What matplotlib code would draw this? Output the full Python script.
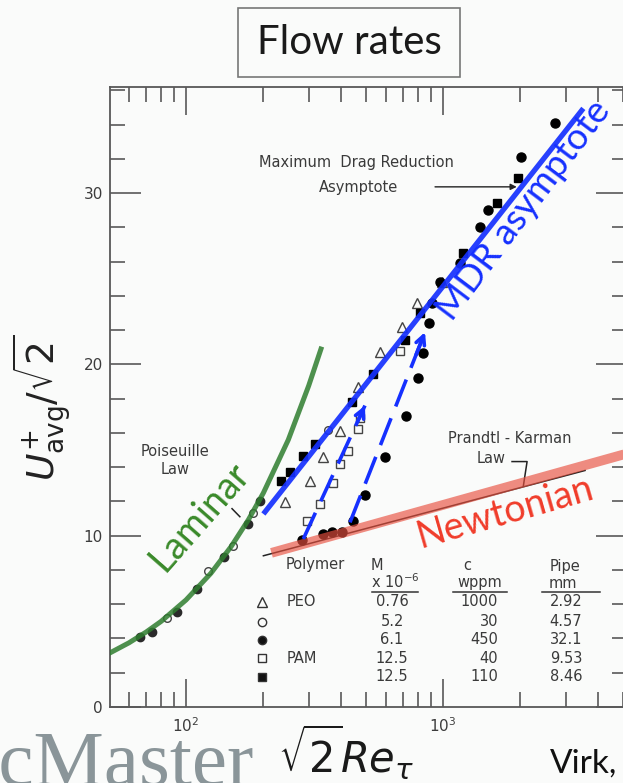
import numpy as np
import matplotlib
matplotlib.use('Agg')
import matplotlib.pyplot as plt
from matplotlib.patches import Rectangle
from matplotlib.ticker import LogLocator, MultipleLocator, NullFormatter

# ---------------- data ----------------
# Poiseuille (laminar) law, green curve
lam_x = [50.6, 60, 70, 80, 100, 125, 150, 175, 200, 250, 300, 335]
lam_y = [3.16, 3.75, 4.38, 5.0, 6.25, 7.81, 9.38, 10.94, 12.5, 15.6, 18.75, 20.9]
# Prandtl-Karman law (thin black)
pk_x = [200, 3570]
pk_y = [8.83, 13.81]
# Newtonian (red, hand drawn)
newt_x = [215, 5200]
newt_y = [9.0, 14.8]
# MDR asymptote (blue)
mdr_x = [200, 3516]
mdr_y = [11.27, 34.95]
# dashed blue arrows
arrow1_x = [286, 497]
arrow1_y = [9.81, 17.6]
arrow2_x = [434.5, 851]
arrow2_y = [10.78, 21.89]

# experimental points
lam_pts_x = [66.3, 73.5, 92, 110, 140, 175, 194]
lam_pts_y = [4.09, 4.4, 5.57, 6.88, 8.73, 10.7, 12.05]

tri_x = [243.5, 304, 342, 397, 468, 569, 690, 791, 988]
tri_y = [11.95, 13.2, 14.58, 16.1, 18.67, 20.72, 22.2, 23.6, 24.8]

ocirc_x = [84.2, 122, 153, 183, 357]
ocirc_y = [5.2, 7.95, 9.4, 11.3, 16.2]

fcirc_x = [282, 342, 369, 403, 448, 497, 594, 716, 797, 834, 882, 903, 973,
           1164, 1393, 1500, 2004, 2729]
fcirc_y = [9.75, 10.1, 10.19, 10.23, 10.88, 12.4, 14.58, 17.0, 19.2, 20.66,
           22.4, 23.6, 24.8, 25.9, 28.0, 29.0, 32.1, 34.07]

osq_x = [295, 332, 374, 397, 428, 468, 475, 681]
osq_y = [10.88, 11.85, 13.1, 14.2, 14.97, 16.24, 16.9, 20.8]

fsq_x = [235, 254, 286, 318, 441, 536, 711, 813, 1199, 1625, 1963]
fsq_y = [13.2, 13.7, 14.68, 15.36, 17.8, 19.45, 21.4, 23.0, 26.5, 29.4, 30.86]

# legend table
leg_markers = ['^', 'o', 'o', 's', 's']
leg_filled = [False, False, True, False, True]
leg_polymer = ['PEO', '', '', 'PAM', '']
leg_M = ['0.76', '5.2', '6.1', '12.5', '12.5']
leg_c = ['1000', '30', '450', '40', '110']
leg_pipe = ['2.92', '4.57', '32.1', '9.53', '8.46']

# ---------------- figure ----------------
W, H = 623, 783
fig = plt.figure(figsize=(W / 100, H / 100), dpi=100)
bg = '#fafbfa'
fig.patch.set_facecolor(bg)

L, R, T, B = 110, 627, 87, 707
ax = fig.add_axes([L / W, 1 - B / H, (R - L) / W, (B - T) / H])
ax.set_facecolor(bg)
ax.set_xscale('log')
ax.set_xlim(50.6, 10 ** (2 + (R - 186) / 257))
ax.set_ylim(0, 36.2)

sc = '#585858'
for s in ax.spines.values():
    s.set_color(sc)
    s.set_linewidth(1.3)

ax.yaxis.set_major_locator(MultipleLocator(10))
ax.yaxis.set_minor_locator(MultipleLocator(2))
ax.xaxis.set_major_locator(LogLocator(base=10, numticks=10))
ax.xaxis.set_minor_locator(LogLocator(base=10, subs=np.arange(2, 10), numticks=20))
ax.xaxis.set_minor_formatter(NullFormatter())
ax.tick_params(which='both', direction='in', top=True, right=True, color=sc,
               width=1.2, labelcolor='#3c3c3c', labelsize=11)
ax.tick_params(axis='y', which='major', length=22, pad=5)
ax.tick_params(axis='y', which='minor', length=11)
ax.tick_params(axis='x', which='major', length=20, pad=7)
ax.tick_params(axis='x', which='minor', length=11)

ink = '#2a2a2a'
ms_kw = dict(linestyle='none', zorder=3)
ax.plot(lam_pts_x, lam_pts_y, marker='o', ms=6, mfc=ink, mec=ink, **ms_kw)
ax.plot(tri_x, tri_y, marker='^', ms=7, mfc='none', mec='#444', mew=1.0, **ms_kw)
ax.plot(ocirc_x, ocirc_y, marker='o', ms=5.5, mfc='none', mec='#444', mew=1.0, **ms_kw)
ax.plot(fcirc_x, fcirc_y, marker='o', ms=6.5, mfc='black', mec='black', **ms_kw)
ax.plot(osq_x, osq_y, marker='s', ms=5.5, mfc='none', mec='#444', mew=1.0, **ms_kw)
ax.plot(fsq_x, fsq_y, marker='s', ms=6, mfc='black', mec='black', **ms_kw)

# theory lines
ax.plot(pk_x, pk_y, color='#222', lw=1.1, zorder=2)
ax.plot(newt_x, newt_y, color='#e8503f', lw=7, alpha=0.65, solid_capstyle='butt', zorder=4)
ax.plot(lam_x, lam_y, color='#2f7d2f', lw=3.6, alpha=0.85, zorder=4)
blue = '#1530ff'
ax.plot(mdr_x, mdr_y, color=blue, lw=3.8, alpha=0.92, solid_capstyle='butt', zorder=4)

for axx, ayy in ((arrow1_x, arrow1_y), (arrow2_x, arrow2_y)):
    ax.plot(axx, ayy, color=blue, lw=2.6, dashes=(8, 3.5), zorder=4)
    lx0, lx1 = np.log10(axx[0]), np.log10(axx[1])
    xb = 10 ** (lx1 - 0.12 * (lx1 - lx0))
    yb = ayy[1] - 0.12 * (ayy[1] - ayy[0])
    ax.annotate('', xy=(axx[1], ayy[1]), xytext=(xb, yb),
                arrowprops=dict(arrowstyle='->', color=blue, lw=2.6,
                                mutation_scale=16, shrinkA=0, shrinkB=0),
                zorder=4)

# scanned annotations
tfont = dict(family='DejaVu Sans', color='#3a3a3a', fontsize=10.5)
ax.text(462, 31.8, 'Maximum  Drag Reduction', ha='center', va='center', **tfont)
ax.text(467, 30.35, 'Asymptote', ha='center', va='center', **tfont)
ax.annotate('', xy=(1936, 30.37), xytext=(931, 30.37),
            arrowprops=dict(arrowstyle='-|>', color='#222', lw=1.0,
                            mutation_scale=9, shrinkA=0, shrinkB=0))
ax.text(90.6, 14.4, 'Poiseuille\nLaw', ha='center', va='center',
        linespacing=1.3, **tfont)
ax.plot([151, 162], [11.58, 11.11], color='#222', lw=1.1)
ax.text(1824, 15.67, 'Prandtl - Karman', ha='center', va='center', **tfont)
ax.text(1538, 14.5, 'Law', ha='center', va='center', **tfont)
ax.plot([1856, 2124, 2054], [14.33, 14.33, 12.9], color='#222', lw=1.1)

# coloured slide annotations
sfont = 'Lato'
ax.text(2050, 29.0, 'MDR asymptote', color=blue, fontsize=26.5, family=sfont,
        rotation=53, rotation_mode='anchor', ha='center', va='center', zorder=5)
ax.text(113.4, 11.1, 'Laminar', color='#3a8a2a', fontsize=27, family=sfont,
        rotation=48.7, rotation_mode='anchor', ha='center', va='center', zorder=5)
ax.text(1742, 11.35, 'Newtonian', color='#f03c2a', fontsize=27, family=sfont,
        rotation=16, rotation_mode='anchor', ha='center', va='center', zorder=5)

# legend table (axes fraction)
def fx(px):
    return (px - L) / (R - L)

def fy(py):
    return (B - py) / (B - T)

ta = ax.transAxes
ax.text(fx(315), fy(565), 'Polymer', transform=ta, ha='center', va='center', **tfont)
ax.text(fx(377), fy(565), 'M', transform=ta, ha='center', va='center', **tfont)
ax.text(fx(395), fy(582), r'x 10$^{-6}$', transform=ta, ha='center', va='center', **tfont)
ax.text(fx(467), fy(566), 'c', transform=ta, ha='center', va='center', **tfont)
ax.text(fx(480), fy(583), 'wppm', transform=ta, ha='center', va='center', **tfont)
ax.text(fx(565), fy(566), 'Pipe', transform=ta, ha='center', va='center', **tfont)
ax.text(fx(563), fy(583), 'mm', transform=ta, ha='center', va='center', **tfont)
for a0, a1 in ((372, 418), (453, 507), (542, 600)):
    ax.plot([fx(a0), fx(a1)], [fy(592), fy(592)], transform=ta, color='#333', lw=1.1)

rows_py = [601.7, 621.7, 640, 658.3, 676.7]
for i, py in enumerate(rows_py):
    mk = leg_markers[i]
    fill = '#111' if leg_filled[i] else 'none'
    ax.plot([fx(262)], [fy(py)], transform=ta, marker=mk, ms=6 if mk != '^' else 7,
            mfc=fill, mec='#333', mew=1.0, linestyle='none', clip_on=False)
    if leg_polymer[i]:
        ax.text(fx(287), fy(py), leg_polymer[i], transform=ta, ha='left', va='center', **tfont)
    ax.text(fx(392), fy(py), leg_M[i], transform=ta, ha='center', va='center', **tfont)
    ax.text(fx(498), fy(py), leg_c[i], transform=ta, ha='right', va='center', **tfont)
    ax.text(fx(566), fy(py), leg_pipe[i], transform=ta, ha='center', va='center', **tfont)

# ---------------- slide elements ----------------
fig.patches.append(Rectangle((238 / W, 1 - 77 / H), 222 / W, 69 / H,
                             transform=fig.transFigure, fill=False,
                             edgecolor='#777', lw=1.2))
fig.text(349 / W, 1 - 43 / H, 'Flow rates', ha='center', va='center',
         fontsize=29, family='Lato', color='#1a1a1a')

fig.text(42 / W, 1 - 408 / H, r'$U^{+}_{\rm avg}/\sqrt{2}$', rotation=90,
         ha='center', va='center', fontsize=27, color='#222')
fig.text(346 / W, 1 - 752 / H, r'$\sqrt{2}Re_{\tau}$', ha='center', va='center',
         fontsize=30, color='#1a1a1a')
fig.text(254 / W, -2 / H, 'McMaster', ha='right', va='baseline',
         fontsize=57, family='Liberation Serif', color='#8a9599')
fig.text(550 / W, 1 - 773 / H, 'Virk,', ha='left', va='baseline',
         fontsize=24, family='Lato', color='#111')

fig.savefig('out.png', dpi=100, facecolor=bg)
